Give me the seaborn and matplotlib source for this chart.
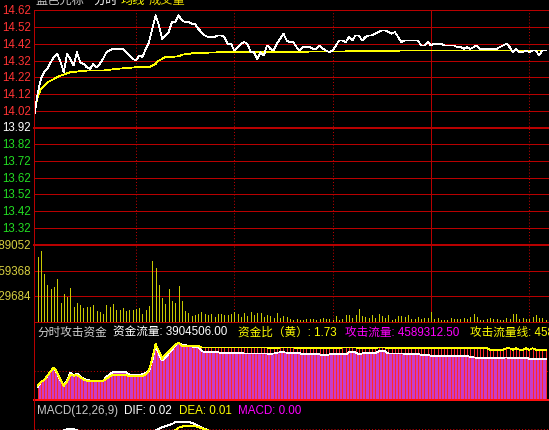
import numpy as np
import pandas as pd
import matplotlib
matplotlib.use("Agg")
import matplotlib.pyplot as plt
import matplotlib.transforms as mtransforms
from matplotlib.lines import Line2D
import seaborn as sns

# ---------------- data ----------------
stock_name = "蓝色光标"
prev_close = 13.92
price_ticks = [14.62, 14.52, 14.42, 14.32, 14.22, 14.12, 14.02, 13.92,
               13.82, 13.72, 13.62, 13.52, 13.42, 13.32]
price_range = [13.22, 14.62]
vol_ticks = [389052, 259368, 129684]
half_hours = [30, 60, 90, 150]
noon = 120

price_minutes = list(range(-1, 156))
price = [13.99, 14.12, 14.21, 14.25, 14.27, 14.31, 14.34, 14.36, 14.31, 14.25,
         14.36, 14.33, 14.29, 14.37, 14.31, 14.30, 14.28, 14.27, 14.30, 14.28,
         14.30, 14.33, 14.37, 14.38, 14.39, 14.39, 14.39, 14.39, 14.37, 14.35,
         14.33, 14.32, 14.35, 14.34, 14.39, 14.43, 14.51, 14.59, 14.53, 14.45,
         14.47, 14.49, 14.55, 14.55, 14.59, 14.56, 14.55, 14.55, 14.54, 14.54,
         14.51, 14.49, 14.47, 14.46, 14.46, 14.46, 14.47, 14.47, 14.46, 14.42,
         14.42, 14.38, 14.40, 14.42, 14.43, 14.42, 14.37, 14.37, 14.33, 14.37,
         14.35, 14.41, 14.39, 14.38, 14.42, 14.45, 14.48, 14.44, 14.43, 14.43,
         14.40, 14.38, 14.40, 14.40, 14.40, 14.39, 14.39, 14.41, 14.39, 14.38,
         14.37, 14.38, 14.41, 14.44, 14.44, 14.43, 14.46, 14.44, 14.47, 14.47,
         14.44, 14.46, 14.47, 14.47, 14.48, 14.49, 14.50, 14.50, 14.49, 14.48,
         14.49, 14.46, 14.43, 14.44, 14.44, 14.44, 14.44, 14.44, 14.41, 14.41,
         14.43, 14.41, 14.42, 14.42, 14.42, 14.41, 14.41, 14.41, 14.41, 14.40,
         14.40, 14.39, 14.40, 14.39, 14.40, 14.41, 14.39, 14.39, 14.39, 14.39,
         14.39, 14.39, 14.40, 14.41, 14.42, 14.40, 14.37, 14.39, 14.37, 14.37,
         14.38, 14.37, 14.38, 14.38, 14.35, 14.38, 14.38]

avg_minutes = [-0.5, 0, 1, 2, 3, 5, 7, 10, 15, 20, 24, 30, 34, 36, 37, 39, 43, 44, 48, 57, 97, 113, 155]
avg_price = [14.06, 14.10, 14.15, 14.17, 14.19, 14.21, 14.23, 14.25, 14.26, 14.26, 14.27, 14.28,
             14.28, 14.30, 14.32, 14.34, 14.345, 14.355, 14.365, 14.37, 14.375, 14.38, 14.38]

vol_minutes = list(range(0, 156))
volume_k = [327, 358, 242, 187, 167, 177, 217, 97, 142, 127,
            170, 77, 97, 87, 72, 77, 77, 87, 57, 52,
            42, 87, 77, 92, 62, 62, 72, 57, 62, 62,
            67, 72, 42, 62, 82, 307, 272, 187, 122, 92,
            167, 107, 97, 182,
            105, 55, 45, 30, 35, 40, 50, 40, 35, 40,
            25, 40, 40, 35, 35, 40, 50, 40, 25, 45,
            30, 50, 35, 45, 45, 25, 35, 30, 20, 45,
            20, 30, 25, 15, 10, 15, 10, 10, 15, 15,
            15, 10, 15, 20, 15, 15, 10, 30, 10, 15,
            35, 35, 20, 35, 65, 30, 25, 20, 35, 20,
            40, 30, 20, 35, 10, 15, 30, 30, 25, 35,
            15, 15, 25, 15, 20, 20, 50, 15, 20, 10,
            10, 10, 20, 15, 15, 15, 20, 15, 25, 40,
            25, 10, 10, 15, 20, 15, 15, 10, 10, 20,
            15, 40, 40, 15, 20, 15, 15, 25, 35, 20,
            20, 10]

# 攻击流量 (white / magenta area) and 攻击流量线 (yellow), millions
attack_flow = [1.42, 2.0, 2.3, 2.7, 3.3, 3.7, 3.0, 2.2, 1.7, 2.2,
               3.1, 2.75, 3.0, 2.7, 2.4, 2.3, 2.2, 2.2, 2.2, 2.2,
               2.2, 2.6, 2.95, 3.14, 3.14, 3.14, 3.14, 3.14, 2.9, 2.83,
               2.83, 2.83, 2.94, 3.1, 3.3, 4.5, 6.3, 5.2, 4.5, 4.8,
               5.3, 5.7, 6.2, 6.5, 6.3, 6.25, 6.2, 6.1, 6.05, 6.0,
               5.6, 5.45, 5.44, 5.44, 5.44, 5.44, 5.36, 5.36, 5.36, 5.36,
               5.36, 5.36, 5.36, 5.3, 5.3, 5.3, 5.3, 5.3, 5.3, 5.3,
               5.3, 5.24, 5.3, 5.4, 5.44, 5.44, 5.4, 5.32, 5.32, 5.32,
               5.32, 5.2, 5.2, 5.2, 5.2, 5.2, 5.2, 5.1, 5.1, 5.2,
               5.2, 5.2, 5.2, 5.2, 5.2, 5.44, 5.44, 5.44, 5.2, 5.3,
               5.36, 5.36, 5.36, 5.36, 5.55, 5.55, 5.55, 5.3, 5.3, 5.3,
               5.3, 5.3, 5.28, 5.28, 5.28, 5.28, 5.28, 5.13, 5.13, 5.13,
               5.05, 5.05, 5.05, 5.05, 5.05, 5.05, 5.05, 5.05, 5.05, 5.05,
               5.05, 5.05, 4.9, 4.85, 4.8, 4.8, 4.8, 4.8, 4.8, 4.8,
               4.8, 4.8, 4.8, 4.85, 4.75, 4.75, 4.75, 4.75, 4.75, 4.82,
               4.7, 4.67, 4.67, 4.67, 4.67, 4.67]
attack_line = [1.6, 2.0, 2.3, 2.75, 3.3, 3.7, 3.1, 2.3, 1.6, 2.1,
               2.9, 2.75, 2.85, 2.6, 2.3, 2.18, 2.18, 2.18, 2.18, 2.18,
               2.18, 2.4, 2.7, 2.83, 2.83, 2.83, 2.83, 2.83, 2.7, 2.7,
               2.7, 2.7, 2.7, 2.9, 3.4, 4.8, 6.4, 5.6, 4.7, 5.2,
               5.5, 5.9, 6.3, 6.5, 6.2, 6.2, 6.2, 6.2, 6.2, 6.2,
               6.0, 6.0, 6.0, 6.0, 6.0, 6.0, 6.0, 6.0, 6.0, 6.0,
               6.0, 6.0, 6.0, 6.0, 6.0, 6.0, 6.0, 6.0, 6.0, 6.0,
               6.0, 5.9, 5.9, 5.9, 6.0, 6.0, 6.0, 6.0, 6.0, 5.9,
               6.0, 5.9, 5.9, 5.9, 5.9, 5.9, 5.9, 5.9, 5.9, 5.9,
               5.9, 6.0, 5.9, 6.0, 6.0, 6.0, 6.0, 6.0, 5.9, 5.9,
               5.9, 5.9, 5.9, 5.9, 6.0, 6.0, 6.0, 5.9, 5.9, 5.9,
               5.9, 5.9, 5.9, 5.9, 5.9, 5.9, 5.9, 5.9, 5.9, 5.9,
               5.9, 5.9, 5.9, 5.9, 5.9, 5.9, 5.9, 5.9, 5.9, 5.9,
               5.9, 5.9, 5.9, 5.9, 5.9, 5.9, 5.9, 5.9, 5.73, 5.73,
               5.73, 5.73, 5.73, 5.9, 5.9, 5.73, 5.9, 5.73, 5.73, 5.9,
               5.73, 5.9, 5.73, 5.73, 5.73, 5.73]
attack_ref = 3.26
attack_top = 8.88

dif_minutes = [5, 7, 9, 11, 13, 15, 33, 35, 36, 38, 41, 42, 43, 46, 47, 48, 50, 52, 54]
macd_dif = [-0.007, -0.004, 0.0005, 0.0005, -0.003, -0.007, -0.007, -0.004, -0.0015,
            0.0035, 0.009, 0.012, 0.0128, 0.0128, 0.011, 0.009, 0.003, -0.0015, -0.006]
dea_minutes = [40, 42, 43, 45, 48, 50, 52, 54]
macd_dea = [-0.005, -0.0015, 0.003, 0.006, 0.0055, 0.002, -0.0015, -0.005]

# ---------------- style ----------------
W, H = 549, 431
FONTS = ['Liberation Sans', 'Noto Sans CJK SC', 'DejaVu Sans']
GRID = '#b80000'
BRIGHT_RED = '#ff1010'
RED_TXT = '#ff3333'
GREEN_TXT = '#22dd22'
VOL_YEL = '#c8c800'
MAGENTA = '#c83cc8'
PX = 0.72  # one pixel in points
DATA_LW = 0.55
DOT = (0, (0.75, 1.5))

plt.rcParams['font.family'] = FONTS
plt.rcParams['lines.scale_dashes'] = False

fig = plt.figure(figsize=(W / 100, H / 100), dpi=100, facecolor='black')


def axes_px(x0, y0, x1, y1):
    ax = fig.add_axes([x0 / W, 1 - y1 / H, (x1 - x0) / W, (y1 - y0) / H])
    ax.set_facecolor('black')
    ax.set_axis_off()
    ax.set_xlim(-1, 156)
    return ax


def hline(ax, y, lw=PX, color=GRID, **kw):
    ax.axhline(y, color=color, lw=lw, antialiased=False, **kw)


XL = 34.3
ax_p = axes_px(XL, 11.3, W, 245.7)
ax_v = axes_px(XL, 245.7, W, 323.3)
ax_a = axes_px(XL, 323.3, W, 400.7)
ax_m = axes_px(XL, 400.7, W, 460)

# ---- price panel ----
ax_p.set_ylim(*price_range)
for t in price_ticks:
    thick = abs(t - prev_close) < 1e-6
    hline(ax_p, t, lw=2 * PX if thick else PX, clip_on=False, zorder=1)
for ax in (ax_p, ax_v):
    for m in half_hours:
        ax.axvline(m, color=GRID, lw=PX, ls=DOT, zorder=1)
    ax.axvline(noon, color=GRID, lw=PX, antialiased=False, zorder=1)

sns.lineplot(x=price_minutes, y=price, ax=ax_p, color='white', lw=DATA_LW,
             estimator=None, sort=False, legend=False, zorder=4, antialiased=False)
sns.lineplot(x=avg_minutes, y=avg_price, ax=ax_p, color='#ffff00', lw=DATA_LW,
             estimator=None, sort=False, legend=False, zorder=3, antialiased=False)
ax_p.set_xlim(-1, 156)
ax_p.set_ylim(*price_range)
ax_p.set_axis_off()

# ---- volume panel ----
ax_v.set_ylim(0, vol_ticks[0] / 1000)
hline(ax_v, vol_ticks[0] / 1000, lw=2 * PX, clip_on=False, zorder=1)
for t in vol_ticks[1:]:
    hline(ax_v, t / 1000, zorder=1)
hline(ax_v, 0, clip_on=False, zorder=1)
ax_v.vlines(vol_minutes, 0, volume_k, color=VOL_YEL, lw=DATA_LW, antialiased=False, zorder=3)

# ---- attack-fund panel ----
ax_a.set_ylim(0, attack_top)
ax_a.axhline(attack_ref, color=GRID, lw=PX, ls=DOT, zorder=1)
ax_a.fill_between(vol_minutes, 0, attack_flow, color=MAGENTA, lw=0, zorder=2)
ax_a.vlines(vol_minutes, 0, attack_line, color='#ff2a2a', lw=DATA_LW,
            antialiased=False, zorder=3)
sns.lineplot(x=vol_minutes, y=attack_flow, ax=ax_a, color='white', lw=DATA_LW,
             estimator=None, sort=False, legend=False, zorder=4, antialiased=False)
sns.lineplot(x=vol_minutes, y=attack_line, ax=ax_a, color='#ffff00', lw=DATA_LW,
             estimator=None, sort=False, legend=False, zorder=5, antialiased=False)
hline(ax_a, 0, lw=2 * PX, color=BRIGHT_RED, clip_on=False, zorder=6)
ax_a.set_xlim(-1, 156)
ax_a.set_ylim(0, attack_top)
ax_a.set_axis_off()

# ---- MACD panel ----
ax_m.set_ylim(-0.05, 0.05)
ax_m.axhline(0, color=GRID, lw=PX, ls=DOT, zorder=1)
sns.lineplot(x=dif_minutes, y=macd_dif, ax=ax_m, color='white', lw=DATA_LW,
             estimator=None, sort=False, legend=False, zorder=3, antialiased=False)
sns.lineplot(x=dea_minutes, y=macd_dea, ax=ax_m, color='#ffff00', lw=DATA_LW,
             estimator=None, sort=False, legend=False, zorder=3, antialiased=False)
ax_m.set_xlim(-1, 156)
ax_m.set_ylim(-0.05, 0.05)
ax_m.set_axis_off()

# ---- frame lines ----
fig.add_artist(Line2D([XL / W, XL / W], [0, 1 - 11.3 / H], color=GRID, lw=PX,
                      antialiased=False, transform=fig.transFigure))

# ---- axis labels ----
tp = mtransforms.blended_transform_factory(fig.transFigure, ax_p.transData)
for t in price_ticks:
    if abs(t - prev_close) < 1e-6:
        c = 'white'
    elif t > prev_close:
        c = RED_TXT
    else:
        c = GREEN_TXT
    fig.text(30.8 / W, t, f"{t:.2f}", transform=tp, ha='right', va='center',
             color=c, fontsize=8.3)
tv = mtransforms.blended_transform_factory(fig.transFigure, ax_v.transData)
for t in vol_ticks:
    fig.text(30.8 / W, t / 1000, f"{t}", transform=tv, ha='right', va='center',
             color='#d8d040', fontsize=8.3)


def ftext(x, y, s, c, fs=8.4):
    fig.text(x / W, 1 - y / H, s, color=c, fontsize=fs, ha='left', va='center')


# top header (partly cut off)
ftext(35, 1.0, stock_name, '#c8c8c8', 8.8)
ftext(93, 1.0, "分时", 'white', 8.8)
ftext(121, 1.0, "均线", '#ffff00', 8.8)
ftext(149, 1.0, "成交量", '#e8d800', 8.8)

# attack panel header
ftext(37, 332.5, "分时攻击资金", '#d0d0d0')
ftext(113, 332.5, "资金流量: 3904506.00", 'white')
ftext(238, 332.5, "资金比（黄）: 1.73", '#ffff00')
ftext(345, 332.5, "攻击流量: 4589312.50", '#ff00ff')
ftext(470, 332.5, "攻击流量线: 4589312.50", '#ffff00')

# MACD header
ftext(37, 411.5, "MACD(12,26,9)", '#c8c8c8')
ftext(124, 411.5, "DIF: 0.02", 'white')
ftext(179, 411.5, "DEA: 0.01", '#ffff00')
ftext(238, 411.5, "MACD: 0.00", '#ff00ff')

fig.savefig("out.png", dpi=100, facecolor='black')
